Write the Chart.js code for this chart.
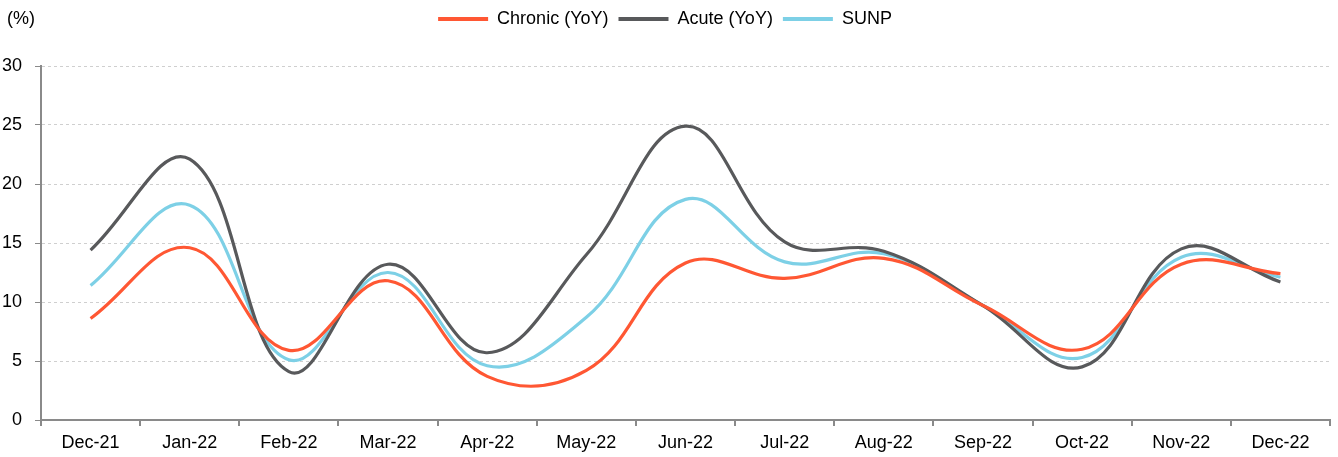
<!DOCTYPE html>
<html>
<head>
<meta charset="utf-8">
<script src="https://cdn.jsdelivr.net/npm/chart.js@4.4.0/dist/chart.umd.min.js"></script>
<style>
  html, body { margin: 0; padding: 0; background: #fff; }
  #wrap { width: 1338px; height: 457px; }
</style>
</head>
<body>
<div id="wrap"><canvas id="chart" width="1338" height="457"></canvas></div>
<script>
const months = ['Dec-21', 'Jan-22', 'Feb-22', 'Mar-22', 'Apr-22', 'May-22', 'Jun-22', 'Jul-22', 'Aug-22', 'Sep-22', 'Oct-22', 'Nov-22', 'Dec-22'];
const chronic = [8.6, 14.6, 5.9, 11.8, 3.7, 4.2, 13.3, 12.0, 13.7, 9.7, 6.0, 13.2, 12.4];
const acute = [14.4, 22.1, 4.1, 13.2, 5.7, 14.0, 24.9, 15.1, 14.3, 9.7, 4.5, 14.5, 11.7];
const sunp = [11.4, 18.2, 5.1, 12.5, 4.6, 8.7, 18.7, 13.4, 14.1, 9.7, 5.3, 13.8, 12.1];
const yTicks = [0, 5, 10, 15, 20, 25, 30];

const axisGrey = '#8a8a8a';
const fontFamily = '"Liberation Sans", Arial, sans-serif';

// "(%)" en haut à gauche + hauteur fixe de la légende
const unitLabel = {
    id: 'unitLabel',
    beforeInit(chart) {
        const origFit = chart.legend.fit;
        chart.legend.fit = function () {
            origFit.call(this);
            this.height = 66;
        };
    },
    afterDraw(chart) {
        const ctx = chart.ctx;
        ctx.save();
        ctx.font = '18px ' + fontFamily;
        ctx.fillStyle = '#000';
        ctx.textBaseline = 'middle';
        ctx.fillText('(%)', 7, 19);
        ctx.restore();
    }
};

function makeSet(label, data, color) {
    return {
        label: label,
        data: data,
        borderColor: color,
        backgroundColor: color,
        borderWidth: 3.2,
        tension: 0.4,
        pointRadius: 0,
        fill: false
    };
}

const ctx = document.getElementById('chart').getContext('2d');
new Chart(ctx, {
    type: 'line',
    data: {
        labels: months,
        datasets: [
            makeSet('Chronic (YoY)', chronic, '#FF5733'),
            makeSet('Acute (YoY)', acute, '#58595B'),
            makeSet('SUNP', sunp, '#7DD0E6')
        ]
    },
    options: {
        responsive: false,
        animation: false,
        layout: { padding: { left: 0, right: 8, top: 0, bottom: 0 } },
        plugins: {
            legend: {
                position: 'top',
                labels: {
                    boxWidth: 50,
                    boxHeight: 4,
                    padding: 10,
                    color: '#000',
                    font: { family: fontFamily, size: 18 },
                    generateLabels(chart) {
                        const items = Chart.defaults.plugins.legend.labels.generateLabels(chart);
                        items.forEach(it => { it.lineWidth = 0; });
                        return items;
                    }
                }
            },
            tooltip: { enabled: false }
        },
        scales: {
            x: {
                offset: true,
                grid: {
                    offset: true,
                    drawOnChartArea: false,
                    color: axisGrey,
                    tickLength: 6,
                    lineWidth: 2
                },
                border: { color: axisGrey, width: 2 },
                ticks: {
                    color: '#000',
                    font: { family: fontFamily, size: 18 },
                    maxRotation: 0,
                    padding: 6
                },
                afterFit(scale) { scale.height = 37; }
            },
            y: {
                min: 0,
                max: 30,
                afterBuildTicks(scale) { scale.ticks = yTicks.map(v => ({ value: v })); },
                grid: {
                    color: '#cfcfcf',
                    tickColor: axisGrey,
                    tickLength: 6,
                    lineWidth: 1
                },
                border: { color: axisGrey, width: 2, dash: [3, 3] },
                ticks: {
                    color: '#000',
                    font: { family: fontFamily, size: 18 },
                    padding: 13
                },
                afterFit(scale) { scale.width = 41; }
            }
        }
    },
    plugins: [unitLabel]
});
</script>
</body>
</html>
